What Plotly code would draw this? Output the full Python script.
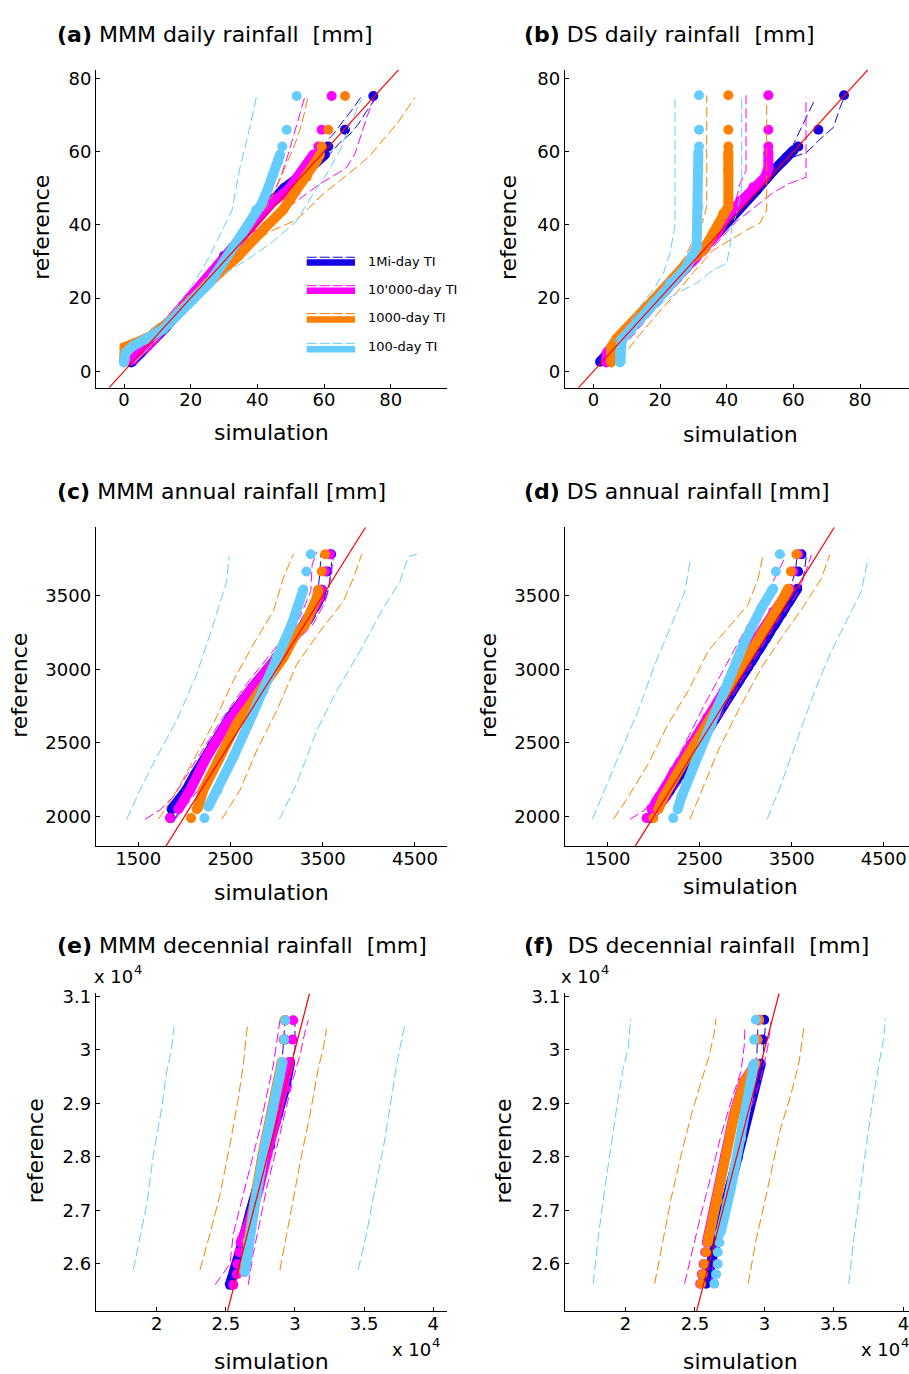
import plotly.graph_objects as go

# ---------------- colours / names ----------------
BLUE, MAG, ORA, LB, RED = "#1400e6", "#ff00ff", "#ff8000", "#66ccff", "#ff0000"
SERIES_NAMES = ["1Mi-day TI", "10'000-day TI", "1000-day TI", "100-day TI"]
SERIES_COLORS = [BLUE, MAG, ORA, LB]

# ---------------- panel (a) MMM daily ----------------
A_BLUE_SIM = [2.2, 5.0, 8.0, 12.5, 20.0, 30.0, 36.0, 42.8, 48.0, 53.8, 56.8, 60.3]
A_BLUE_REF = [2.4, 5.0, 7.8, 12.0, 20.0, 31.5, 37.5, 44.9, 50.0, 53.9, 56.6, 59.2]
A_BLUE_TAIL_SIM = [61.3, 66.3, 74.8]
A_BLUE_TAIL_REF = [61.4, 66.0, 75.2]
A_BLUE_LO_SIM = [3.0, 10.0, 20.0, 30.0, 40.0, 48.0, 55.0, 58.0, 60.8, 62.8, 65.8, 68.5, 71.3]
A_BLUE_LO_REF = [3.5, 10.8, 20.8, 31.5, 42.0, 50.5, 57.0, 60.0, 62.5, 64.8, 68.4, 71.5, 75.2]
A_BLUE_HI_SIM = [3.0, 10.0, 20.0, 30.0, 40.0, 48.0, 55.0, 58.5, 61.8, 64.8, 67.8, 70.3, 72.8, 75.3]
A_BLUE_HI_REF = [2.4, 9.5, 19.5, 30.0, 40.0, 48.0, 54.0, 56.8, 59.4, 62.5, 64.8, 67.5, 71.1, 74.3]

A_MAG_SIM = [2.5, 4.5, 7.0, 12.0, 20.0, 30.0, 38.0, 44.3, 49.5, 54.5, 56.8]
A_MAG_REF = [3.0, 5.2, 6.8, 12.0, 20.0, 30.5, 39.0, 46.0, 49.8, 55.5, 59.2]
A_MAG_TAIL_SIM = [58.3, 59.3, 62.3]
A_MAG_TAIL_REF = [61.4, 66.0, 75.2]
A_MAG_LO_SIM = [5.0, 12.0, 20.0, 30.0, 38.0, 44.8, 47.3, 49.3, 51.3, 54.3]
A_MAG_LO_REF = [6.5, 13.0, 20.8, 31.2, 40.5, 48.5, 53.9, 59.4, 65.7, 75.2]
A_MAG_HI_SIM = [5.0, 12.0, 20.0, 30.0, 40.0, 46.0, 50.8, 54.8, 58.8, 63.8, 66.8, 69.3, 70.8, 72.8, 74.8]
A_MAG_HI_REF = [4.0, 11.0, 19.5, 29.3, 38.8, 43.5, 45.8, 48.5, 51.2, 53.9, 55.7, 59.4, 63.9, 69.3, 74.3]

A_ORA_SIM = [0.0, 0.2, 3.0, 8.0, 14.0, 20.0, 27.0, 34.1, 37.6, 42.6, 47.6, 49.8, 54.8, 57.8, 58.8]
A_ORA_REF = [2.4, 6.6, 7.6, 9.6, 14.0, 19.5, 25.5, 31.3, 34.9, 39.5, 44.0, 46.7, 53.0, 57.6, 59.2]
A_ORA_TAIL_SIM = [59.3, 61.3, 66.3]
A_ORA_TAIL_REF = [61.4, 66.0, 75.2]
A_ORA_LO_SIM = [5.0, 12.0, 20.0, 30.0, 38.0, 42.8, 45.8, 48.8, 51.3, 53.3, 55.3]
A_ORA_LO_REF = [7.0, 13.0, 20.8, 31.0, 40.0, 44.9, 50.3, 56.6, 62.1, 67.5, 75.2]
A_ORA_HI_SIM = [5.0, 12.0, 20.0, 28.0, 36.6, 43.6, 51.6, 54.8, 59.8, 64.8, 69.8, 73.8, 75.8, 81.8, 87.3]
A_ORA_HI_REF = [4.0, 11.0, 19.5, 26.5, 33.1, 38.1, 41.3, 44.0, 48.5, 52.1, 55.7, 58.9, 61.2, 67.5, 74.8]

A_LB_SIM = [0.0, 0.1, 0.5, 2.6, 6.6, 11.6, 15.6, 20.6, 25.6, 31.6, 35.6, 39.6, 41.3, 43.0, 44.8, 46.3, 46.8]
A_LB_REF = [2.4, 3.3, 5.1, 6.9, 8.7, 11.4, 15.0, 19.5, 24.1, 32.2, 37.6, 44.0, 45.8, 49.4, 53.9, 57.5, 59.2]
A_LB_TAIL_SIM = [47.5, 48.8, 51.8]
A_LB_TAIL_REF = [61.4, 66.0, 75.2]
A_LB_LO_SIM = [2.0, 8.0, 14.0, 18.6, 21.6, 25.6, 29.6, 32.4, 34.8, 37.3, 39.8]
A_LB_LO_REF = [6.0, 11.5, 15.5, 21.3, 25.0, 31.3, 38.6, 44.0, 55.7, 64.8, 75.2]
A_LB_HI_SIM = [3.0, 10.0, 16.0, 22.0, 24.6, 30.6, 37.0, 44.5, 51.7, 56.8, 60.8, 64.8, 67.8, 71.3]
A_LB_HI_REF = [2.4, 8.5, 14.0, 19.5, 22.5, 27.0, 30.5, 35.3, 41.0, 48.5, 53.9, 60.3, 67.5, 74.3]

# ---------------- panel (b) DS daily ----------------
B_BLUE_SIM = [2.0, 7.0, 13.0, 19.0, 25.0, 31.0, 37.0, 43.0, 49.0, 54.0, 58.0, 60.0]
B_BLUE_REF = [2.6, 7.5, 13.5, 19.5, 25.5, 31.5, 37.5, 43.5, 49.5, 54.8, 58.5, 60.3]
B_BLUE_TAIL_SIM = [61.5, 67.5, 75.2]
B_BLUE_TAIL_REF = [61.4, 66.0, 75.4]
B_BLUE_LO_SIM = [3.0, 10.0, 20.0, 30.0, 40.0, 50.0, 56.0, 59.0, 61.0, 63.5, 66.5]
B_BLUE_LO_REF = [4.0, 11.0, 20.5, 30.5, 41.0, 51.0, 57.0, 60.0, 63.9, 68.5, 74.3]
B_BLUE_HI_SIM = [3.0, 10.0, 20.0, 30.0, 40.0, 50.0, 56.0, 60.0, 64.0, 68.0, 72.0, 74.0, 75.5]
B_BLUE_HI_REF = [2.2, 9.5, 19.5, 29.5, 39.5, 49.5, 55.0, 58.5, 59.8, 63.4, 66.6, 72.0, 75.4]

B_MAG_SIM = [3.8, 4.0, 7.0, 13.0, 19.0, 25.0, 31.0, 37.0, 40.0, 44.0, 48.0, 51.5, 52.5, 52.5]
B_MAG_REF = [2.4, 5.0, 8.5, 14.0, 19.5, 25.5, 31.5, 37.5, 42.5, 46.5, 50.3, 53.0, 55.5, 59.8]
B_MAG_TAIL_SIM = [52.5, 52.5, 52.5]
B_MAG_TAIL_REF = [61.4, 66.0, 75.4]
B_MAG_LO_SIM = [5.0, 12.0, 20.0, 28.0, 36.0, 42.0, 44.0, 45.8, 45.8]
B_MAG_LO_REF = [6.0, 13.0, 21.0, 29.0, 37.0, 44.0, 51.2, 54.8, 75.4]
B_MAG_HI_SIM = [5.0, 12.0, 20.0, 28.0, 36.0, 43.0, 48.5, 53.5, 58.5, 63.8, 63.8]
B_MAG_HI_REF = [3.0, 10.0, 18.5, 26.5, 34.0, 41.0, 44.9, 48.5, 51.2, 53.0, 74.8]

B_ORA_SIM = [5.3, 5.3, 7.0, 12.0, 18.0, 24.0, 29.0, 33.0, 36.0, 39.0, 40.5, 40.5, 40.5]
B_ORA_REF = [2.4, 6.5, 9.0, 13.5, 19.5, 25.5, 30.5, 33.1, 37.6, 43.1, 45.0, 55.0, 59.8]
B_ORA_TAIL_SIM = [40.5, 40.5, 40.5]
B_ORA_TAIL_REF = [61.4, 66.0, 75.4]
B_ORA_LO_SIM = [4.0, 10.0, 18.0, 25.0, 27.5, 33.0, 34.0, 34.0]
B_ORA_LO_REF = [6.0, 12.0, 20.0, 28.0, 31.3, 41.3, 45.0, 75.4]
B_ORA_HI_SIM = [8.0, 13.0, 19.0, 25.0, 30.0, 36.0, 41.0, 46.0, 50.0, 52.0, 52.0]
B_ORA_HI_REF = [3.0, 9.0, 15.5, 21.5, 27.0, 33.1, 35.8, 38.6, 40.5, 44.0, 74.0]

B_LB_SIM = [8.0, 8.0, 8.5, 13.0, 18.0, 23.0, 28.0, 31.0, 31.5, 31.5, 31.5]
B_LB_REF = [2.4, 5.1, 8.7, 13.2, 18.6, 24.1, 28.6, 34.0, 44.9, 55.0, 59.8]
B_LB_TAIL_SIM = [31.7, 31.7, 31.7]
B_LB_TAIL_REF = [61.4, 66.0, 75.4]
B_LB_LO_SIM = [6.0, 10.0, 14.0, 18.0, 21.0, 23.0, 24.5, 24.5, 24.5]
B_LB_LO_REF = [8.0, 12.0, 17.7, 22.3, 26.8, 32.2, 40.0, 60.0, 74.3]
B_LB_HI_SIM = [9.5, 9.5, 12.0, 17.0, 21.0, 25.0, 31.0, 36.0, 40.0, 41.0, 41.5, 43.0, 44.5, 44.5]
B_LB_HI_REF = [2.0, 8.0, 11.0, 15.5, 19.0, 21.3, 24.1, 27.7, 29.5, 34.0, 39.5, 43.1, 50.0, 75.4]

# ---------------- panel (c) MMM annual ----------------
C_BLUE_SIM = [1862, 2020, 2120, 2300, 2500, 2740, 3000, 3300, 3470, 3490]
C_BLUE_REF = [2050, 2180, 2292, 2480, 2680, 2880, 3080, 3305, 3484, 3540]
C_BLUE_TAIL_SIM = [1850, 3550, 3590]
C_BLUE_TAIL_REF = [1990, 3664, 3781]
C_BLUE_LO_SIM = [1790, 1950, 2070, 2250, 2460, 2690, 2950, 3240, 3400, 3450, 3470, 3480]
C_BLUE_LO_REF = [1990, 2150, 2292, 2480, 2680, 2880, 3080, 3305, 3484, 3540, 3664, 3781]
C_BLUE_HI_SIM = [1900, 2050, 2150, 2340, 2550, 2790, 3060, 3370, 3530, 3560, 3590, 3600]
C_BLUE_HI_REF = [1990, 2150, 2292, 2480, 2680, 2880, 3080, 3305, 3484, 3540, 3664, 3781]

C_MAG_SIM = [1934, 2061, 2242, 2459, 2711, 2990, 3300, 3460, 3480]
C_MAG_REF = [2050, 2180, 2405, 2630, 2855, 3080, 3305, 3484, 3540]
C_MAG_TAIL_SIM = [1844, 3525, 3579]
C_MAG_TAIL_REF = [1990, 3664, 3781]
C_MAG_LO_SIM = [1573, 1735, 1880, 2150, 2420, 2700, 2990, 3250, 3370, 3385, 3435]
C_MAG_LO_REF = [1982, 2045, 2135, 2405, 2675, 2922, 3147, 3350, 3529, 3709, 3799]
C_MAG_HI_SIM = [1900, 2050, 2205, 2330, 2520, 2710, 2920, 3110, 3390, 3520, 3560, 3590, 3615]
C_MAG_HI_REF = [1982, 2100, 2225, 2400, 2600, 2780, 2950, 3130, 3300, 3450, 3530, 3640, 3754]

C_ORA_SIM = [2133, 2151, 2205, 2386, 2567, 2820, 3073, 3200, 3308, 3435, 3452]
C_ORA_REF = [2050, 2067, 2180, 2405, 2630, 2855, 3080, 3230, 3305, 3484, 3540]
C_ORA_TAIL_SIM = [2072, 3489, 3525]
C_ORA_TAIL_REF = [1990, 3664, 3781]
C_ORA_LO_SIM = [1717, 1880, 2097, 2313, 2530, 2747, 2964, 3073, 3181]
C_ORA_LO_REF = [1982, 2135, 2382, 2630, 2922, 3169, 3394, 3619, 3781]
C_ORA_HI_SIM = [2404, 2603, 2784, 3001, 3218, 3471, 3724, 3832, 3923]
C_ORA_HI_REF = [1982, 2180, 2449, 2719, 3034, 3259, 3462, 3619, 3781]

C_LB_SIM = [2260, 2358, 2531, 2694, 2856, 3001, 3164, 3290]
C_LB_REF = [2067, 2180, 2405, 2630, 2855, 3080, 3305, 3541]
C_LB_TAIL_SIM = [2218, 3322, 3370]
C_LB_TAIL_REF = [1990, 3664, 3781]
C_LB_LO_SIM = [1374, 1518, 1700, 1916, 2133, 2313, 2459, 2484]
C_LB_LO_REF = [1982, 2180, 2405, 2652, 2967, 3304, 3597, 3765]
C_LB_HI_SIM = [3029, 3218, 3435, 3652, 3904, 4157, 4338, 4428, 4520]
C_LB_HI_REF = [1982, 2225, 2584, 2854, 3124, 3417, 3597, 3765, 3781]

# ---------------- panel (d) DS annual ----------------
D_BLUE_SIM = [1990, 2130, 2310, 2480, 2660, 2845, 3030, 3215, 3395, 3525, 3560]
D_BLUE_REF = [2050, 2135, 2310, 2480, 2660, 2840, 3020, 3200, 3380, 3520, 3547]
D_BLUE_TAIL_SIM = [1960, 3570, 3606]
D_BLUE_TAIL_REF = [1990, 3664, 3781]
D_BLUE_LO_SIM = [1900, 2060, 2250, 2420, 2600, 2790, 2970, 3160, 3340, 3470, 3540, 3560]
D_BLUE_LO_REF = [1990, 2135, 2310, 2480, 2660, 2840, 3020, 3200, 3380, 3520, 3664, 3781]
D_BLUE_HI_SIM = [2020, 2190, 2370, 2540, 2720, 2900, 3090, 3270, 3450, 3590, 3640, 3660]
D_BLUE_HI_REF = [1990, 2135, 2310, 2480, 2660, 2840, 3020, 3200, 3380, 3520, 3664, 3781]

D_MAG_SIM = [1978, 2060, 2220, 2400, 2580, 2760, 2940, 3120, 3300, 3440, 3480]
D_MAG_REF = [2050, 2135, 2310, 2490, 2670, 2850, 3030, 3210, 3390, 3520, 3547]
D_MAG_TAIL_SIM = [1923, 3516, 3570]
D_MAG_TAIL_REF = [1990, 3664, 3781]
D_MAG_LO_SIM = [1742, 1905, 2050, 2303, 2557, 2810, 3027, 3245, 3407, 3425]
D_MAG_LO_REF = [1982, 2045, 2180, 2450, 2765, 3057, 3305, 3530, 3732, 3777]
D_MAG_HI_SIM = [1905, 2086, 2340, 2593, 2846, 3100, 3317, 3534, 3643, 3715]
D_MAG_HI_REF = [1982, 2045, 2270, 2540, 2810, 3080, 3305, 3485, 3642, 3777]

D_ORA_SIM = [2050, 2110, 2290, 2470, 2650, 2830, 3000, 3170, 3340, 3440, 3462]
D_ORA_REF = [2050, 2135, 2330, 2510, 2690, 2880, 3060, 3240, 3410, 3520, 3547]
D_ORA_TAIL_SIM = [1996, 3491, 3552]
D_ORA_TAIL_REF = [1990, 3664, 3781]
D_ORA_LO_SIM = [1562, 1724, 1942, 2159, 2376, 2593, 2810, 3027, 3136, 3190]
D_ORA_LO_REF = [1982, 2135, 2360, 2630, 2855, 3125, 3282, 3440, 3619, 3777]
D_ORA_HI_SIM = [2394, 2521, 2702, 2919, 3172, 3389, 3643, 3824, 3914]
D_ORA_HI_REF = [1982, 2180, 2450, 2720, 3012, 3215, 3440, 3619, 3777]

D_LB_SIM = [2260, 2303, 2448, 2629, 2810, 2991, 3172, 3281, 3299]
D_LB_REF = [2050, 2135, 2360, 2630, 2922, 3192, 3417, 3529, 3547]
D_LB_TAIL_SIM = [2213, 3328, 3371]
D_LB_TAIL_REF = [1990, 3664, 3781]
D_LB_LO_SIM = [1334, 1435, 1616, 1833, 2014, 2195, 2340, 2376, 2405]
D_LB_LO_REF = [1982, 2135, 2405, 2720, 3035, 3305, 3530, 3665, 3759]
D_LB_HI_SIM = [3234, 3389, 3570, 3751, 3932, 4113, 4258, 4330]
D_LB_HI_REF = [1982, 2225, 2540, 2855, 3125, 3350, 3530, 3754]

# ---------------- panel (e) MMM decennial ----------------
E_BLUE_SIM = [25300, 25800, 26200, 26800, 27500, 28200, 28800, 29300, 29650]
E_BLUE_REF = [25610, 26000, 26400, 27000, 27600, 28200, 28800, 29300, 29770]
E_BLUE_TAIL_SIM = [29250, 29300]
E_BLUE_TAIL_REF = [30190, 30550]
E_BLUE_LO_SIM = [24940, 25700, 26500, 27600, 28700, 29100, 29270]
E_BLUE_LO_REF = [25610, 26190, 27000, 28040, 29280, 29900, 30510]
E_BLUE_HI_SIM = [25540, 26300, 27100, 28100, 29300, 30000, 30000]
E_BLUE_HI_REF = [25610, 26190, 27000, 27920, 29280, 30020, 30510]

E_MAG_SIM = [26070, 26700, 27400, 28000, 28650, 29280, 29600]
E_MAG_REF = [26400, 26800, 27420, 28040, 28660, 29280, 29770]
E_MAG_TAIL_SIM = [25540, 25800, 25830, 25970, 29830, 29870]
E_MAG_TAIL_REF = [25610, 25810, 26000, 26220, 30190, 30550]
E_MAG_LO_SIM = [24210, 25300, 25540, 26020, 26740, 27470, 27950, 28430, 28790, 28910]
E_MAG_LO_REF = [25610, 26000, 26560, 27050, 27790, 28540, 29150, 29710, 30330, 30550]
E_MAG_HI_SIM = [26620, 26980, 27470, 27950, 28670, 29390, 29870, 30360, 30720, 30960]
E_MAG_HI_REF = [25610, 26190, 26800, 27420, 28160, 28910, 29460, 29900, 30330, 30550]

E_ORA_SIM = [26320, 26390, 26560, 27040, 27650, 28370, 28840, 29040]
E_ORA_REF = [25850, 26000, 26430, 27110, 28040, 28910, 29500, 29770]
E_ORA_TAIL_SIM = [29160, 29240]
E_ORA_TAIL_REF = [30190, 30550]
E_ORA_LO_SIM = [23130, 23850, 24580, 25300, 25900, 26260, 26500, 26620]
E_ORA_LO_REF = [25890, 26560, 27300, 28230, 29090, 29710, 30330, 30510]
E_ORA_HI_SIM = [28910, 29390, 29870, 30480, 31080, 31680, 32040, 32280]
E_ORA_HI_REF = [25890, 26560, 27240, 28040, 28780, 29650, 30020, 30390]

E_LB_SIM = [26380, 26450, 26620, 27100, 27710, 28430, 28900, 29100]
E_LB_REF = [25850, 26000, 26430, 27110, 28040, 28910, 29500, 29770]
E_LB_TAIL_SIM = [29220, 29300]
E_LB_TAIL_REF = [30190, 30550]
E_LB_LO_SIM = [18310, 18800, 19280, 19760, 20360, 20720, 21080, 21250]
E_LB_LO_REF = [25890, 26490, 27110, 28040, 28910, 29590, 30020, 30420]
E_LB_HI_SIM = [34570, 35170, 35660, 36380, 36860, 37340, 37820, 38010]
E_LB_HI_REF = [25890, 26560, 27240, 28160, 28910, 29710, 30330, 30510]

# ---------------- panel (f) DS decennial ----------------
F_BLUE_SIM = [25800, 26100, 26700, 27400, 28100, 28550, 29150, 29500, 29740]
F_BLUE_REF = [25630, 26000, 26600, 27300, 28000, 28540, 29150, 29530, 29740]
F_BLUE_TAIL_SIM = [29860, 29980]
F_BLUE_TAIL_REF = [30190, 30560]
F_BLUE_LO_SIM = [25200, 25900, 26700, 27700, 28500, 29100, 29450, 29550]
F_BLUE_LO_REF = [25630, 26200, 27000, 27900, 28700, 29300, 29900, 30560]
F_BLUE_HI_SIM = [26200, 26600, 27200, 28000, 28950, 29500, 29900, 30100]
F_BLUE_HI_REF = [25630, 26200, 27000, 27900, 28700, 29300, 29900, 30560]

F_MAG_SIM = [25860, 25990, 26590, 27190, 27790, 28500, 29200, 29380]
F_MAG_REF = [26400, 26560, 27180, 28040, 28780, 29400, 29710, 29740]
F_MAG_TAIL_SIM = [25380, 25500, 25620, 25740, 29500, 29620]
F_MAG_TAIL_REF = [25630, 25810, 26000, 26220, 30190, 30560]
F_MAG_LO_SIM = [24250, 24970, 25440, 26180, 26880, 27590, 28310, 28550, 28600]
F_MAG_LO_REF = [25630, 26430, 26930, 27670, 28410, 29030, 29590, 30080, 30450]
F_MAG_HI_SIM = [26160, 26400, 26880, 27590, 28310, 29030, 29740, 30220, 30460]
F_MAG_HI_REF = [25630, 26190, 26800, 27550, 28350, 28910, 29460, 30020, 30510]

F_ORA_SIM = [25920, 26040, 26640, 27240, 27830, 28550, 29260, 29380]
F_ORA_REF = [26400, 26560, 27180, 28040, 28780, 29400, 29710, 29740]
F_ORA_TAIL_SIM = [25440, 25560, 25680, 25800, 29500, 29620]
F_ORA_TAIL_REF = [25630, 25810, 26000, 26220, 30190, 30560]
F_ORA_LO_SIM = [22100, 22700, 23300, 24010, 24730, 25440, 26040, 26400, 26520]
F_ORA_LO_REF = [25630, 26430, 27240, 28040, 28780, 29400, 29900, 30330, 30580]
F_ORA_HI_SIM = [28830, 29380, 29980, 30580, 31170, 31890, 32490, 32730, 32850]
F_ORA_HI_REF = [25630, 26430, 27110, 27860, 28540, 29150, 29770, 30210, 30450]

F_LB_SIM = [26760, 26880, 27590, 28310, 28790, 29150, 29260]
F_LB_REF = [26560, 26620, 27420, 28350, 29090, 29650, 29740]
F_LB_TAIL_SIM = [26400, 26520, 26640, 26640, 26760, 29260, 29380]
F_LB_TAIL_REF = [25630, 25810, 26000, 26220, 26400, 30190, 30560]
F_LB_LO_SIM = [17680, 18040, 18520, 19000, 19470, 19830, 20190, 20380]
F_LB_LO_REF = [25630, 26490, 27420, 28290, 29090, 29650, 30020, 30580]
F_LB_HI_SIM = [36070, 36430, 36910, 37380, 37740, 38220, 38580, 38700]
F_LB_HI_REF = [25630, 26490, 27420, 28350, 28970, 29710, 30210, 30580]

# ---------------- ticks ----------------
DAILY_TICKS = [0, 20, 40, 60, 80]
ANNUAL_X_TICKS = [1500, 2500, 3500, 4500]
ANNUAL_Y_TICKS = [2000, 2500, 3000, 3500]
DEC_X_TICKS = [20000, 25000, 30000, 35000, 40000]
DEC_X_TEXT = ["2", "2.5", "3", "3.5", "4"]
DEC_Y_TICKS = [26000, 27000, 28000, 29000, 30000, 31000]
DEC_Y_TEXT = ["2.6", "2.7", "2.8", "2.9", "3", "3.1"]

PANEL_TITLES = [
    "<b>(a)</b> MMM daily rainfall\u00a0 [mm]",
    "<b>(b)</b> DS daily rainfall\u00a0 [mm]",
    "<b>(c)</b> MMM annual rainfall [mm]",
    "<b>(d)</b> DS annual rainfall [mm]",
    "<b>(e)</b> MMM decennial rainfall\u00a0 [mm]",
    "<b>(f)</b>\u00a0 DS decennial rainfall\u00a0 [mm]",
]

# ---------------- build ----------------
W, H = 909, 1374
FONT = "DejaVu Sans"


def fx(p):
    return p / W


def fy(p):
    return 1 - p / H


def S(prefix):
    g = globals()
    out = []
    for c in ["BLUE", "MAG", "ORA", "LB"]:
        k = prefix + "_" + c
        out.append((g[k + "_SIM"], g[k + "_REF"], g[k + "_TAIL_SIM"], g[k + "_TAIL_REF"],
                    g[k + "_LO_SIM"], g[k + "_LO_REF"], g[k + "_HI_SIM"], g[k + "_HI_REF"]))
    return out


PANELS = [
    dict(series=S("A"), xdom=(96, 447), ydom=(62, 382), xr=(-8.4, 96.9), yr=(-4.5, 82.4),
         xt=DAILY_TICKS, xtt=None, yt=DAILY_TICKS, ytt=None),
    dict(series=S("B"), xdom=(564.7, 909), ydom=(62, 382), xr=(-8.6, 94.7), yr=(-4.5, 82.4),
         xt=DAILY_TICKS, xtt=None, yt=DAILY_TICKS, ytt=None),
    dict(series=S("C"), xdom=(95.7, 446.7), ydom=(522.3, 843.3), xr=(1038, 4844), yr=(1798, 3964),
         xt=ANNUAL_X_TICKS, xtt=None, yt=ANNUAL_Y_TICKS, ytt=None),
    dict(series=S("D"), xdom=(564.7, 909), ydom=(522.3, 843.3), xr=(1033, 4775), yr=(1798, 3964),
         xt=ANNUAL_X_TICKS, xtt=None, yt=ANNUAL_Y_TICKS, ytt=None),
    dict(series=S("E"), xdom=(95.7, 446.7), ydom=(991, 1311), xr=(15590, 40970), yr=(25115, 31056),
         xt=DEC_X_TICKS, xtt=DEC_X_TEXT, yt=DEC_Y_TICKS, ytt=DEC_Y_TEXT),
    dict(series=S("F"), xdom=(564.7, 909), ydom=(991, 1311), xr=(15630, 40400), yr=(25115, 31056),
         xt=DEC_X_TICKS, xtt=DEC_X_TEXT, yt=DEC_Y_TICKS, ytt=DEC_Y_TEXT),
]

fig = go.Figure()
layout = dict(width=W, height=H, margin=dict(l=0, r=0, t=0, b=0), autosize=False,
              paper_bgcolor="white", plot_bgcolor="white", showlegend=False,
              font=dict(family=FONT, color="black"))

axis_common = dict(showline=True, linecolor="black", linewidth=1, ticks="inside", ticklen=4,
                   tickcolor="black", tickwidth=1, showgrid=False, zeroline=False, mirror=False,
                   tickfont=dict(family=FONT, size=18, color="black"), fixedrange=True,
                   ticklabeloverflow="allow")

for i, P in enumerate(PANELS, start=1):
    xa = "x" if i == 1 else f"x{i}"
    ya = "y" if i == 1 else f"y{i}"
    xkey = "xaxis" if i == 1 else f"xaxis{i}"
    ykey = "yaxis" if i == 1 else f"yaxis{i}"
    xax = dict(axis_common, domain=[fx(P["xdom"][0]), fx(P["xdom"][1])], range=list(P["xr"]),
               anchor=ya, tickmode="array", tickvals=P["xt"], ticklabelstandoff=-4)
    yax = dict(axis_common, domain=[fy(P["ydom"][1]), fy(P["ydom"][0])], range=list(P["yr"]),
               anchor=xa, tickmode="array", tickvals=P["yt"])
    if P["xtt"]:
        xax["ticktext"] = P["xtt"]
    if P["ytt"]:
        yax["ticktext"] = P["ytt"]
    layout[xkey] = xax
    layout[ykey] = yax

    for (bs, br, ts, tr, ls, lr, hs, hr), col, name in zip(P["series"], SERIES_COLORS, SERIES_NAMES):
        fig.add_trace(go.Scatter(x=bs, y=br, mode="lines+markers", name=name,
                                 line=dict(color=col, width=10),
                                 marker=dict(color=col, size=10, line=dict(width=0)),
                                 xaxis=xa, yaxis=ya, hoverinfo="skip"))
        fig.add_trace(go.Scatter(x=ts, y=tr, mode="markers", name=name,
                                 marker=dict(color=col, size=10, line=dict(width=0)),
                                 xaxis=xa, yaxis=ya, hoverinfo="skip"))
        for s_, r_ in ((ls, lr), (hs, hr)):
            fig.add_trace(go.Scatter(x=s_, y=r_, mode="lines", name=name,
                                     line=dict(color=col, width=1, dash="10px,4px"),
                                     xaxis=xa, yaxis=ya, hoverinfo="skip"))
    lo, hi = P["yr"]
    fig.add_trace(go.Scatter(x=[lo, hi], y=[lo, hi], mode="lines", name="1:1",
                             line=dict(color=RED, width=1.2), xaxis=xa, yaxis=ya, hoverinfo="skip"))

ann = []


def text_ann(text, x, y, size, xanchor="left", angle=0):
    return dict(text=text, x=fx(x), y=fy(y), xref="paper", yref="paper", xanchor=xanchor,
                yanchor="middle", textangle=angle, showarrow=False,
                font=dict(family=FONT, size=size, color="black"))


TITLE_POS = [(55, 26.7), (521.7, 26.7), (55, 486.7), (521.7, 486.7), (55, 942.7), (521.7, 942.7)]
for t, (x, y) in zip(PANEL_TITLES, TITLE_POS):
    ann.append(text_ann(t, x, y, 22))
XLAB_POS = [(271.5, 427), (740.5, 428.5), (271.7, 890), (740.5, 884), (271.7, 1361), (740.5, 1361)]
YLAB_POS = [(42, 221), (508.3, 221), (20, 681.7), (488.3, 681.7), (35, 1150), (503.3, 1150)]
for (x, y) in XLAB_POS:
    ann.append(text_ann("simulation", x, y, 22, xanchor="center"))
for (x, y) in YLAB_POS:
    ann.append(text_ann("reference", x, y, 22, xanchor="center", angle=-90))

# axis multipliers "x 10^4" (base and exponent as two texts)
EXP_POS = [(92, 974), (390, 1349), (559, 974), (859, 1349)]
for (x, y) in EXP_POS:
    ann.append(text_ann("x 10", x, y, 18))
    ann.append(text_ann("4", x + 40, y - 7, 13))

# legend (panel a)
shapes = []
LEG_TEXT_Y = [255, 283.3, 311.7, 340]
LEG_DASH_Y = [250.7, 279.3, 307.3, 337.3]
LEG_THICK_Y = [256, 284.5, 313.3, 343.3]
for name, col, ty, dy, ky in zip(SERIES_NAMES, SERIES_COLORS, LEG_TEXT_Y, LEG_DASH_Y, LEG_THICK_Y):
    shapes.append(dict(type="line", xref="paper", yref="paper", x0=fx(306.7), x1=fx(355), y0=fy(dy), y1=fy(dy),
                       line=dict(color=col, width=1, dash="10px,3px")))
    shapes.append(dict(type="line", xref="paper", yref="paper", x0=fx(306.7), x1=fx(355), y0=fy(ky), y1=fy(ky),
                       line=dict(color=col, width=6.5)))
    ann.append(text_ann(name, 366, ty, 13))

layout["annotations"] = ann
layout["shapes"] = shapes
fig.update_layout(**layout)
fig.write_html("out.html")
